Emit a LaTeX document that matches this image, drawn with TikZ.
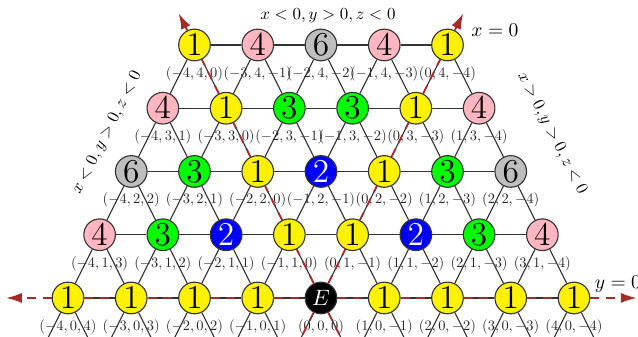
\documentclass[tikz,border=0pt]{standalone}
\usepackage{fix-cm}
\usetikzlibrary{arrows.meta,positioning}
\definecolor{axisred}{HTML}{A52A2A}
\definecolor{pinkv}{HTML}{FFB6C1}
\definecolor{grayv}{HTML}{BEBEBE}
\tikzset{
  cell/.style={circle,draw=black!80,line width=0.5pt,minimum size=5mm,inner sep=0pt,font=\fontsize{15}{15}\selectfont},
  v1/.style={fill=yellow},v2/.style={fill=blue,text=white},v3/.style={fill=green},
  v4/.style={fill=pinkv},v6/.style={fill=grayv},vE/.style={fill=black,text=white,font=\normalsize},
  latline/.style={black!80,line width=0.5pt},
  axisline/.style={axisred,line width=0.8pt,dash pattern=on 4pt off 3pt},
  axtip/.style={-{Latex[length=2.5mm,width=1.6mm]}},
  coordlab/.style={font=\normalsize,scale=0.65,transform shape,text=black!85},
  sidelab/.style={font=\normalsize,scale=0.76,transform shape},
  axislab/.style={font=\normalsize,scale=0.88,transform shape}
}

\begin{document}
\begin{tikzpicture}
\useasboundingbox (-5.075,-0.617) rectangle (5.012,4.711);
% lattice cells, row j = y
\foreach \j/\row in {0/{1,1,1,1,E,1,1,1,1},1/{4,3,2,1,1,2,3,4},2/{6,3,1,2,1,3,6},3/{4,1,3,3,1,4},4/{1,4,6,4,1}}{
  \foreach \v [count=\k from 0] in \row {
    \pgfmathtruncatemacro{\xx}{\k-4}
    \pgfmathtruncatemacro{\zz}{4-\k-\j}
    \node[cell,v\v,label={[coordlab]below:$(\xx,\j,\zz)$}] (n\k-\j) at (\k-4+\j/2,\j) {\makebox[0pt]{$\v$}};
  }
}
% edges
\foreach \j in {0,...,4}{
  \pgfmathtruncatemacro{\kmax}{7-\j}
  \foreach \k in {0,...,\kmax}{
    \pgfmathtruncatemacro{\kk}{\k+1}
    \draw[latline] (n\k-\j) -- (n\kk-\j);
  }
}
\foreach \j in {0,...,3}{
  \pgfmathtruncatemacro{\kmax}{7-\j}
  \pgfmathtruncatemacro{\jj}{\j+1}
  \foreach \k in {0,...,\kmax}{
    \pgfmathtruncatemacro{\kk}{\k+1}
    \draw[latline] (n\k-\j) -- (n\k-\jj) (n\kk-\j) -- (n\k-\jj);
  }
}
\foreach \k in {0,...,8}{
  \coordinate (bl\k) at (\k-4.35,-0.7);
  \coordinate (br\k) at (\k-3.65,-0.7);
  \draw[latline] (n\k-0) -- (bl\k) (n\k-0) -- (br\k);
}
% axes
\coordinate (yw) at (-4.98,0);
\coordinate (ye) at (4.99,0);
\coordinate (xtip) at (2.25,4.5);
\coordinate (ztip) at (-2.25,4.5);
\draw[axisline,axtip] (n0-0) -- (yw);
\draw[axisline,axtip] (n8-0) -- (ye);
\foreach \k in {0,...,7}{
  \pgfmathtruncatemacro{\kk}{\k+1}
  \draw[axisline] (n\k-0) -- (n\kk-0);
}
\foreach \j in {0,...,3}{
  \pgfmathtruncatemacro{\jj}{\j+1}
  \pgfmathtruncatemacro{\k}{4-\j}
  \pgfmathtruncatemacro{\kn}{3-\j}
  \draw[axisline] (n4-\j) -- (n4-\jj);
  \draw[axisline] (n\k-\j) -- (n\kn-\jj);
}
\draw[axisline,axtip] (n4-4) -- (xtip);
\draw[axisline,axtip] (n0-4) -- (ztip);
\draw[axisline] (n4-0) -- (bl4) (n4-0) -- (br4);
% labels
\node[sidelab] (toplab) at (0.11,4.46) {$x<0,y>0,z<0$};
\node[sidelab,rotate=63] (leftlab) at (-3.38,2.61) {$x<0,y>0,z<0$};
\node[sidelab,rotate=-63] (rightlab) at (3.65,2.6) {$x>0,y>0,z<0$};
\node[axislab,anchor=west] (xlab) at (2.27,4.24) {$x=0$};
\node[axislab,anchor=west] (ylab) at (4.22,0.22) {$y=0$};
\end{tikzpicture}
\end{document}
